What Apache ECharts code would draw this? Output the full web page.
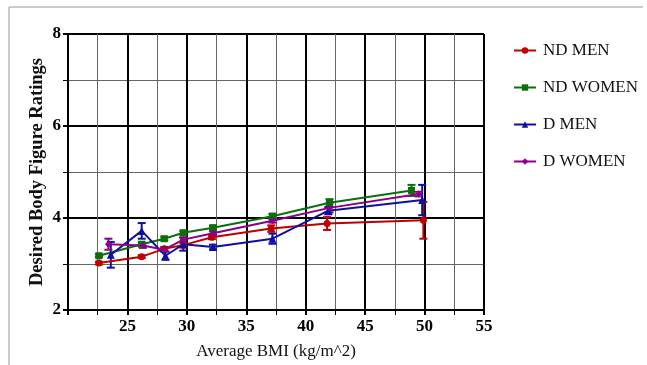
<!DOCTYPE html>
<html>
<head>
<meta charset="utf-8">
<script src="https://cdn.jsdelivr.net/npm/echarts@6/dist/echarts.min.js"></script>
<style>
  html, body { margin: 0; padding: 0; background: #fff; }
  #chart { width: 647px; height: 365px; }
</style>
</head>
<body>
<div id="chart"></div>
<script>
// values (BMI, mean rating, error)
const ndMenX = [22.6, 26.2, 28.1, 29.7, 32.1, 37.1, 41.8, 49.9];
const ndMenY = [3.02, 3.16, 3.33, 3.41, 3.58, 3.77, 3.88, 3.95];
const ndMenErr = [0.03, 0.03, 0.04, 0.05, 0.04, 0.07, 0.14, 0.40];

const ndWomenX = [22.6, 26.2, 28.1, 29.7, 32.2, 37.2, 42.0, 48.9];
const ndWomenY = [3.18, 3.43, 3.55, 3.68, 3.79, 4.04, 4.33, 4.60];
const ndWomenErr = [0.03, 0.04, 0.04, 0.04, 0.04, 0.05, 0.08, 0.12];

const dMenX = [23.6, 26.2, 28.2, 29.7, 32.2, 37.2, 41.9, 49.8];
const dMenY = [3.20, 3.72, 3.18, 3.43, 3.37, 3.55, 4.16, 4.39];
const dMenErr = [0.28, 0.17, 0.09, 0.14, 0.05, 0.11, 0.08, 0.33];

const dWomenX = [23.4, 26.3, 28.1, 29.7, 32.2, 37.2, 42.0, 49.5];
const dWomenY = [3.43, 3.40, 3.31, 3.53, 3.67, 3.94, 4.22, 4.52];
const dWomenErr = [0.12, 0.05, 0.04, 0.05, 0.04, 0.04, 0.10, 0.05];

const groups = [
  { name: 'ND MEN', x: ndMenX, y: ndMenY, err: ndMenErr, color: '#c00000', symbol: 'circle', size: 7 },
  { name: 'ND WOMEN', x: ndWomenX, y: ndWomenY, err: ndWomenErr, color: '#0a700a', symbol: 'rect', size: 7 },
  { name: 'D MEN', x: dMenX, y: dMenY, err: dMenErr, color: '#1010a0', symbol: 'triangle', size: 8 },
  { name: 'D WOMEN', x: dWomenX, y: dWomenY, err: dWomenErr, color: '#8a008a', symbol: 'diamond', size: 7 }
];

const serif = '"Liberation Serif", "DejaVu Serif", serif';
const chart = echarts.init(document.getElementById('chart'));

const series = [];
groups.forEach(g => {
  series.push({
    name: g.name,
    type: 'line',
    z: 4,
    data: g.x.map((v, i) => [v, g.y[i]]),
    symbol: g.symbol,
    symbolSize: g.size,
    showAllSymbol: true,
    color: g.color,
    lineStyle: { color: g.color, width: 2 },
    itemStyle: { color: g.color },
    emphasis: { disabled: true }
  });
});
// error bars
groups.forEach(g => {
  series.push({
    type: 'custom',
    z: 3,
    data: g.x.map((v, i) => [v, g.y[i] - g.err[i], g.y[i] + g.err[i]]),
    renderItem: (params, api) => {
      const lo = api.coord([api.value(0), api.value(1)]);
      const hi = api.coord([api.value(0), api.value(2)]);
      const w = 4;
      const style = { stroke: g.color, lineWidth: 2 };
      return {
        type: 'group',
        children: [
          { type: 'line', shape: { x1: lo[0], y1: lo[1], x2: hi[0], y2: hi[1] }, style },
          { type: 'line', shape: { x1: lo[0] - w, y1: lo[1], x2: lo[0] + w, y2: lo[1] }, style },
          { type: 'line', shape: { x1: hi[0] - w, y1: hi[1], x2: hi[0] + w, y2: hi[1] }, style }
        ]
      };
    }
  });
});

chart.setOption({
  animation: false,
  backgroundColor: '#fff',
  graphic: [{
    type: 'polyline',
    shape: { points: [[9, 365], [9, 7], [643, 7]] },
    style: { stroke: '#999', lineWidth: 1, fill: null }
  }],
  grid: { left: 68, right: 163, top: 34, bottom: 53 },
  legend: {
    orient: 'vertical',
    left: 508,
    top: 37,
    itemGap: 20,
    itemWidth: 22,
    itemHeight: 8,
    data: groups.map(g => g.name),
    textStyle: { fontFamily: serif, fontSize: 17, color: '#111', padding: [0, 0, 0, 2] }
  },
  xAxis: {
    type: 'value',
    min: 20,
    max: 55,
    interval: 5,
    name: 'Average BMI (kg/m^2)',
    nameLocation: 'middle',
    nameGap: 33,
    nameTextStyle: { fontFamily: serif, fontSize: 17, color: '#111' },
    axisLine: { lineStyle: { color: '#000', width: 2 } },
    axisTick: { show: true, length: 5, lineStyle: { color: '#000', width: 2 } },
    minorTick: { show: true, splitNumber: 2, length: 5, lineStyle: { color: '#000', width: 1 } },
    axisLabel: {
      fontFamily: serif, fontSize: 17, fontWeight: 'bold', color: '#000', margin: 8,
      formatter: v => (v === 20 ? '' : v)
    },
    splitLine: { show: true, lineStyle: { color: '#000', width: 2 } },
    minorSplitLine: { show: true, lineStyle: { color: '#666', width: 1 } }
  },
  yAxis: {
    type: 'value',
    min: 2,
    max: 8,
    interval: 2,
    name: 'Desired Body Figure Ratings',
    nameLocation: 'middle',
    nameGap: 21,
    nameMoveOverlap: false,
    nameTextStyle: { fontFamily: serif, fontSize: 18.5, fontWeight: 'bold', color: '#111' },
    axisLine: { show: true, lineStyle: { color: '#000', width: 2 } },
    axisTick: { show: true, length: 5, lineStyle: { color: '#000', width: 2 } },
    minorTick: { show: true, splitNumber: 2, length: 5, lineStyle: { color: '#000', width: 1 } },
    axisLabel: { fontFamily: serif, fontSize: 17, fontWeight: 'bold', color: '#000', margin: 7 },
    splitLine: { show: true, lineStyle: { color: '#000', width: 2 } },
    minorSplitLine: { show: true, lineStyle: { color: '#666', width: 1 } }
  },
  series: series
});
</script>
</body>
</html>
